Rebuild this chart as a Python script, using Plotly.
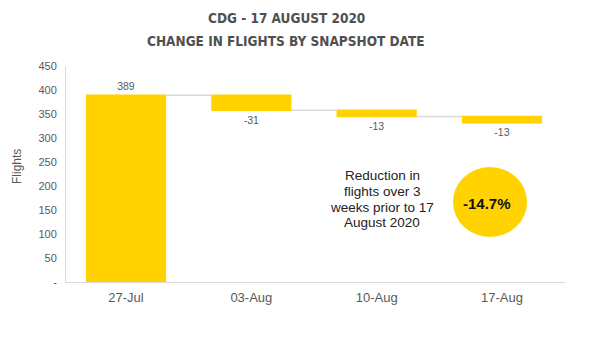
import plotly.graph_objects as go

categories = ["27-Jul", "03-Aug", "10-Aug", "17-Aug"]
values = [389, -31, -13, -13]
measures = ["absolute", "relative", "relative", "relative"]
labels = ["389", "-31", "-13", "-13"]
ytick_vals = [0, 50, 100, 150, 200, 250, 300, 350, 400, 450]
ytick_text = ["-", "50", "100", "150", "200", "250", "300", "350", "400", "450"]
title_lines = ["CDG - 17 AUGUST 2020", "CHANGE IN FLIGHTS BY SNAPSHOT DATE"]
note_lines = ["Reduction in", "flights over 3", "weeks prior to 17", "August 2020"]
pct_text = "-14.7%"

YELLOW = "#FFD200"
GRAY = "#595959"
TITLE_FONT = dict(family="DejaVu Sans Condensed", size=13.5, color="#505050", weight="bold")
NOTE_FONT = dict(family="Liberation Sans", size=13.5, color="#222222")

# plot area: x 66..565 px, y 66..282 px
W = 499.0
H = 216.0


def px(xp):
    return (xp - 66) / W


def py(yp):
    return (282 - yp) / H


fig = go.Figure(go.Waterfall(
    x=categories, y=values, measure=measures,
    text=labels, textposition="outside",
    textfont=dict(family="Liberation Sans", size=10.5, color=GRAY),
    increasing=dict(marker=dict(color=YELLOW)),
    decreasing=dict(marker=dict(color=YELLOW)),
    totals=dict(marker=dict(color=YELLOW)),
    connector=dict(line=dict(color="#d9d9d9", width=1.5)),
    width=0.64,
    cliponaxis=False,
))

annotations = [
    dict(text=title_lines[0], xref="paper", yref="paper", x=px(286), y=py(18.3),
         xanchor="center", yanchor="middle", showarrow=False, font=TITLE_FONT),
    dict(text=title_lines[1], xref="paper", yref="paper", x=px(286), y=py(41.3),
         xanchor="center", yanchor="middle", showarrow=False, font=TITLE_FONT),
    dict(text="Flights", textangle=-90, xref="paper", yref="paper",
         x=px(17), y=py(167), xanchor="center", yanchor="middle", showarrow=False,
         font=dict(family="Liberation Sans", size=12, color=GRAY)),
    dict(text="<b>" + pct_text + "</b>", xref="paper", yref="paper",
         x=px(487), y=py(203), xanchor="center", yanchor="middle", showarrow=False,
         font=dict(family="Liberation Sans", size=15, color="#111111")),
]
for i, line in enumerate(note_lines):
    annotations.append(dict(text=line, xref="paper", yref="paper",
                            x=px(382), y=py(175.5 + 15.8 * i),
                            xanchor="center", yanchor="middle", showarrow=False,
                            font=NOTE_FONT))

fig.update_layout(
    width=600, height=339,
    margin=dict(l=66, r=35, t=66, b=57),
    paper_bgcolor="white", plot_bgcolor="white",
    showlegend=False,
    xaxis=dict(
        range=[-0.479, 3.503], showgrid=False,
        showline=True, linecolor="#d9d9d9", linewidth=1,
        tickfont=dict(family="Liberation Sans", size=13, color=GRAY),
        ticks="", ticklen=0, ticklabelstandoff=3,
    ),
    yaxis=dict(
        range=[0, 450], tickvals=ytick_vals, ticktext=ytick_text,
        showgrid=False, zeroline=False,
        showline=True, linecolor="#d9d9d9", linewidth=1,
        tickfont=dict(family="Liberation Sans", size=11, color=GRAY),
        ticks="outside", ticklen=6, tickcolor="white",
    ),
    annotations=annotations,
    shapes=[
        dict(type="circle", xref="paper", yref="paper",
             x0=px(453), x1=px(527), y0=py(237), y1=py(167),
             fillcolor=YELLOW, line=dict(width=0), layer="below"),
    ],
)

fig.write_html("out.html")
